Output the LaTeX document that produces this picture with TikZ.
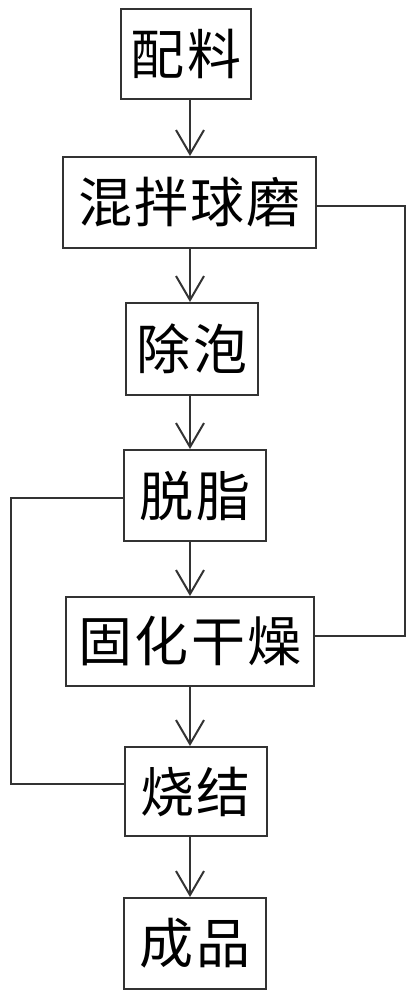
\documentclass[tikz,border=0pt]{standalone}
\usepackage{fontspec}
\newfontfamily\cjk[LetterSpace=4]{Noto Sans CJK SC}
\usetikzlibrary{arrows.meta}
\begin{document}
\begin{tikzpicture}[x=1pt,y=-1pt,
  box/.style={draw=black!80,line width=2pt,inner sep=0pt,font=\cjk\fontsize{54}{54}\selectfont},
  flow/.style={draw=black!80,line width=2pt,-{Straight Barb[length=24pt,width=28pt,line width=2pt]}},
  loop/.style={draw=black!80,line width=2pt}]
\useasboundingbox (0,0) rectangle (415,1000);
\node[box,minimum width=130pt,minimum height=90pt] (b1) at (186,54) {配料};
\node[box,minimum width=253pt,minimum height=91pt] (b2) at (189.5,202.5) {混拌球磨};
\node[box,minimum width=132pt,minimum height=92pt] (b3) at (192,349) {除泡};
\node[box,minimum width=142pt,minimum height=91pt] (b4) at (195,495.5) {脱脂};
\node[box,minimum width=248pt,minimum height=89pt] (b5) at (190,641.5) {固化干燥};
\node[box,minimum width=142pt,minimum height=89pt] (b6) at (195.5,791.5) {烧结};
\node[box,minimum width=142pt,minimum height=91pt] (b7) at (195,943.5) {成品};
\coordinate (ax) at (190,0);
\coordinate (rx) at (405,0);
\coordinate (lx) at (11,0);
\draw[flow] (b1.south -| ax) -- (b2.north -| ax);
\draw[flow] (b2.south -| ax) -- (b3.north -| ax);
\draw[flow] (b3.south -| ax) -- (b4.north -| ax);
\draw[flow] (b4.south -| ax) -- (b5.north -| ax);
\draw[flow] (b5.south -| ax) -- (b6.north -| ax);
\draw[flow] (b6.south -| ax) -- (b7.north -| ax);
\draw[loop] ([yshift=-3.5pt]b2.east) -| ([yshift=-3.5pt]b2.east -| rx) |- ([yshift=5.5pt]b5.east);
\draw[loop] ([yshift=-2.5pt]b4.west) -| ([yshift=-2.5pt]b4.west -| lx) |- ([yshift=7.5pt]b6.west);
\end{tikzpicture}
\end{document}
